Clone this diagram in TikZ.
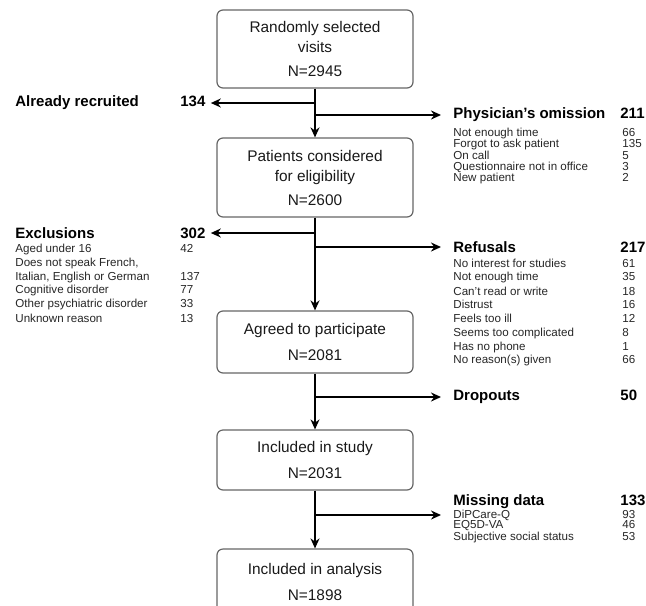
\documentclass[tikz,border=0pt]{standalone}
\usepackage{fontspec}
\setmainfont{Liberation Sans}
\usetikzlibrary{arrows.meta}

\tikzset{
  stagebox/.style={draw=black!60, line width=0.6pt, rounded corners=3pt, minimum width=98pt, inner sep=0pt, align=center, font=\fontsize{7.7}{10}\selectfont, text=black!90},
  flow/.style={-{Stealth[length=5pt,width=4.5pt]}, line width=0.9pt},
  headtext/.style={anchor=west, inner sep=0pt, font=\fontsize{7.5}{9}\bfseries\selectfont},
  itemtext/.style={anchor=west, inner sep=0pt, font=\fontsize{5.8}{7}\selectfont, text=black!85},
}
\newcommand{\rcol}[1]{\makebox[84.5pt][l]{#1}}
\newcommand{\rhead}[1]{\makebox[83.5pt][l]{#1}}
\newcommand{\lcol}[1]{\makebox[82.5pt][l]{#1}}

\begin{document}
\begin{tikzpicture}[x=0.5pt, y=-0.5pt]
\useasboundingbox (0,0) rectangle (646,605);

%boxes
\node [stagebox, minimum height=39pt] (rand) at (315,49) {Randomly selected\\visits\\[2pt]N=2945};
\node [stagebox, minimum height=39.5pt] (elig) at (315,177.5) {Patients considered\\for eligibility\\[2pt]N=2600};
\node [stagebox, minimum height=31pt] (agree) at (315,342) {Agreed to participate\\[3pt]N=2081};
\node [stagebox, minimum height=30pt] (incl) at (315,460) {Included in study\\[3pt]N=2031};
\node [stagebox, minimum height=33pt] (anal) at (315,582) {Included in analysis\\[3pt]N=1898};

%already recruited
\node [headtext] (recr) at (15,103) {\lcol{Already recruited}134};

%physician's omission
\node [headtext] (phys) at (453,115) {\rhead{Physician's omission}211};
\node [itemtext] (ph1) at (453,133) {\rcol{Not enough time}66};
\node [itemtext] (ph2) at (453,144) {\rcol{Forgot to ask patient}135};
\node [itemtext] (ph3) at (453,155.5) {\rcol{On call}5};
\node [itemtext] (ph4) at (453,167) {\rcol{Questionnaire not in office}3};
\node [itemtext] (ph5) at (453,178) {\rcol{New patient}2};

%exclusions
\node [headtext] (excl) at (15,233) {\lcol{Exclusions}302};
\node [itemtext] (ex1) at (15,249) {\lcol{Aged under 16}42};
\node [itemtext] (ex2) at (15,263) {Does not speak French,};
\node [itemtext] (ex3) at (15,277) {\lcol{Italian, English or German}137};
\node [itemtext] (ex4) at (15,290) {\lcol{Cognitive disorder}77};
\node [itemtext] (ex5) at (15,304) {\lcol{Other psychiatric disorder}33};
\node [itemtext] (ex6) at (15,318) {\lcol{Unknown reason}13};

%refusals
\node [headtext] (refu) at (453,247) {\rhead{Refusals}217};
\node [itemtext] (rf1) at (453,263) {\rcol{No interest for studies}61};
\node [itemtext] (rf2) at (453,277) {\rcol{Not enough time}35};
\node [itemtext] (rf3) at (453,291) {\rcol{Can't read or write}18};
\node [itemtext] (rf4) at (453,304) {\rcol{Distrust}16};
\node [itemtext] (rf5) at (453,318) {\rcol{Feels too ill}12};
\node [itemtext] (rf6) at (453,333) {\rcol{Seems too complicated}8};
\node [itemtext] (rf7) at (453,347) {\rcol{Has no phone}1};
\node [itemtext] (rf8) at (453,360) {\rcol{No reason(s) given}66};

%dropouts
\node [headtext] (drop) at (453,397) {\rhead{Dropouts}50};

%missing data
\node [headtext] (miss) at (453,502) {\rhead{Missing data}133};
\node [itemtext] (ms1) at (453,515) {\rcol{DiPCare-Q}93};
\node [itemtext] (ms2) at (453,526) {\rcol{EQ5D-VA}46};
\node [itemtext] (ms3) at (453,537) {\rcol{Subjective social status}53};

%main flow
\draw [flow] (rand) -- (elig);
\draw [flow] (elig) -- (agree);
\draw [flow] (agree) -- (incl);
\draw [flow] (incl) -- (anal);

%side arrows
\draw [flow, shorten >=2.5pt] (rand.south |- recr.east) -- (recr.east);
\draw [flow, shorten >=6pt] (rand.south |- phys.west) -- (phys.west);
\draw [flow, shorten >=2.5pt] (elig.south |- excl.east) -- (excl.east);
\draw [flow, shorten >=6pt] (elig.south |- refu.west) -- (refu.west);
\draw [flow, shorten >=6pt] (agree.south |- drop.west) -- (drop.west);
\draw [flow, shorten >=6pt] (incl.south |- ms1.west) -- (ms1.west);
\end{tikzpicture}
\end{document}
